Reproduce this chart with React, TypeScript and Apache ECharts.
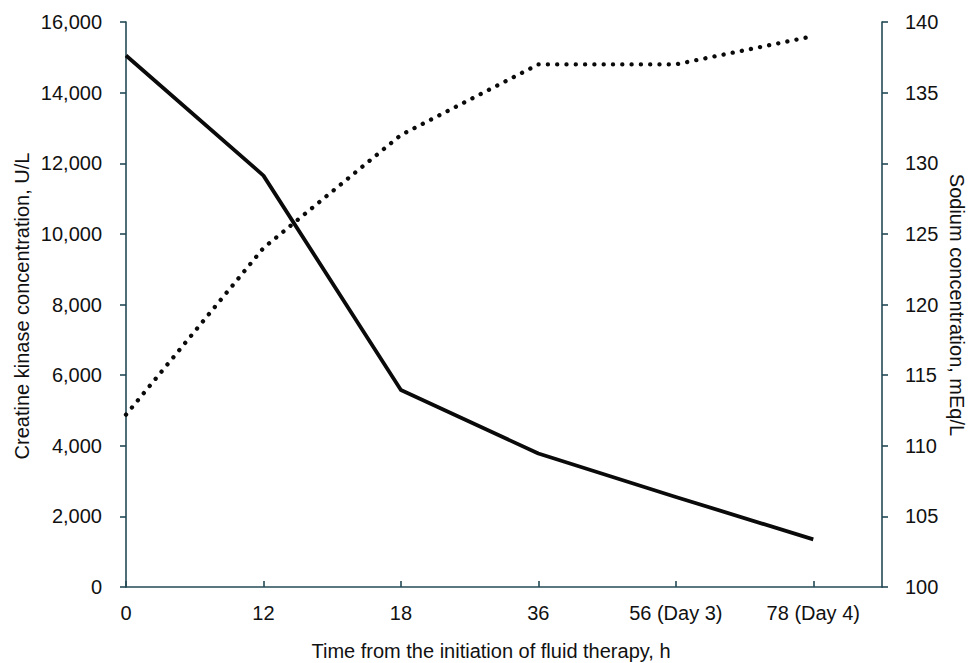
import React, { useEffect, useRef } from "react";
import * as echarts from "echarts";

const categories = ["0", "12", "18", "36", "56 (Day 3)", "78 (Day 4)"];
const creatineKinase = [15050, 11650, 5580, 3780, 2550, 1350];
const sodium = [112.2, 124, 132, 137, 137, 139];
const leftTicks = { min: 0, max: 16000, interval: 2000 };
const rightTicks = { min: 100, max: 140, interval: 5 };

const FONT = "'Liberation Sans', Arial, Helvetica, sans-serif";
const FONT_SIZE = 20;
const AXIS_COLOR = "#244a55";

export default function App() {
  const ref = useRef<HTMLDivElement>(null);
  useEffect(() => {
    if (!ref.current) return;
    const chart = echarts.init(ref.current, undefined, { renderer: "svg" });
    const axisLine = { show: true, lineStyle: { color: AXIS_COLOR, width: 1.6 } };
    const axisTick = { show: true, length: 6, lineStyle: { color: AXIS_COLOR, width: 1.6 } };
    const label = { color: "#111", fontSize: FONT_SIZE, fontFamily: FONT };
    chart.setOption({
      animation: false,
      backgroundColor: "#ffffff",
      grid: { left: 126, right: 88, top: 22, bottom: 76, containLabel: false },
      xAxis: {
        type: "value",
        min: 0,
        max: categories.length - 0.5,
        interval: 1,
        axisLine,
        axisTick: { ...axisTick, inside: true },
        splitLine: { show: false },
        axisLabel: {
          ...label,
          margin: 16,
          showMaxLabel: false,
          formatter: (v: number) => (Number.isInteger(v) ? categories[v] ?? "" : ""),
        },
      },
      yAxis: [
        {
          type: "value",
          position: "left",
          ...leftTicks,
          axisLine,
          axisTick,
          splitLine: { show: false },
          axisLabel: {
            ...label,
            margin: 24,
            formatter: (v: number) => v.toLocaleString("en-US"),
          },
        },
        {
          type: "value",
          position: "right",
          ...rightTicks,
          axisLine,
          axisTick,
          splitLine: { show: false },
          axisLabel: { ...label, margin: 23 },
        },
      ],
      graphic: [
        {
          type: "text",
          x: 22,
          y: 306,
          rotation: Math.PI / 2,
          style: {
            text: "Creatine kinase concentration, U/L",
            fill: "#111",
            font: `${FONT_SIZE}px ${FONT}`,
            textAlign: "center",
            textVerticalAlign: "middle",
          },
        },
        {
          type: "text",
          x: 957,
          y: 305,
          rotation: -Math.PI / 2,
          style: {
            text: "Sodium concentration, mEq/L",
            fill: "#111",
            font: `${FONT_SIZE}px ${FONT}`,
            textAlign: "center",
            textVerticalAlign: "middle",
          },
        },
        {
          type: "text",
          x: 491,
          y: 651,
          style: {
            text: "Time from the initiation of fluid therapy, h",
            fill: "#111",
            font: `${FONT_SIZE}px ${FONT}`,
            textAlign: "center",
            textVerticalAlign: "middle",
          },
        },
      ],
      series: [
        {
          name: "Creatine kinase",
          type: "line",
          yAxisIndex: 0,
          data: creatineKinase.map((v, i) => [i, v]),
          showSymbol: false,
          symbol: "none",
          lineStyle: { color: "#0a0a0a", width: 3.8, join: "round" },
        },
        {
          name: "Sodium",
          type: "line",
          yAxisIndex: 1,
          data: sodium.map((v, i) => [i, v]),
          showSymbol: false,
          symbol: "none",
          lineStyle: {
            color: "#0a0a0a",
            width: 4.3,
            type: [0.1, 9.2],
            cap: "round",
          },
        },
      ],
    });
    return () => chart.dispose();
  }, []);
  return (
    <div
      ref={ref}
      style={{ position: "fixed", left: 0, top: 0, width: 970, height: 663, background: "#fff" }}
    />
  );
}
